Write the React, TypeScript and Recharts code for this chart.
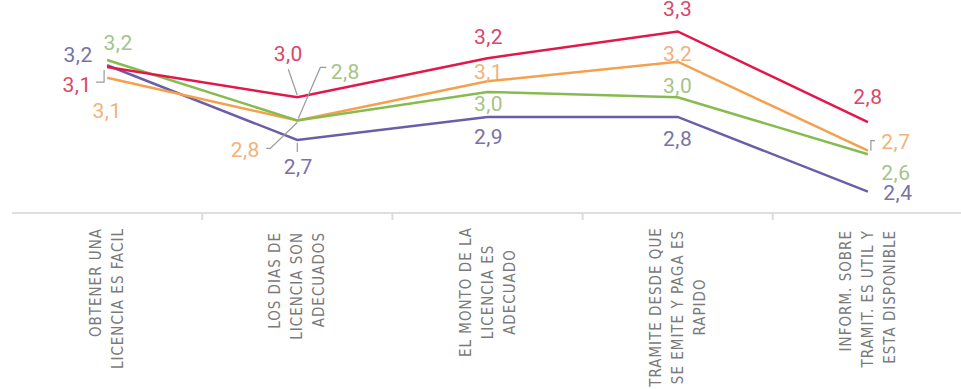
import React from 'react';
import { LineChart, Line, XAxis, YAxis, LabelList } from 'recharts';

// categorias (cada una partida en renglones, como en el original)
const categoryLines = [
  ['OBTENER UNA', 'LICENCIA ES FACIL'],
  ['LOS DIAS DE', 'LICENCIA SON', 'ADECUADOS'],
  ['EL MONTO DE LA', 'LICENCIA ES', 'ADECUADO'],
  ['TRAMITE DESDE QUE', 'SE EMITE Y PAGA ES', 'RAPIDO'],
  ['INFORM. SOBRE', 'TRAMIT. ES UTIL Y', 'ESTA DISPONIBLE'],
];

const rojo = [3.10, 2.93, 3.15, 3.30, 2.79];
const naranja = [3.04, 2.80, 3.02, 3.13, 2.63];
const verde = [3.14, 2.80, 2.96, 2.93, 2.61];
const morado = [3.11, 2.69, 2.82, 2.82, 2.40];

// etiquetas tal como aparecen impresas
const rojoLabels = ['3,1', '3,0', '3,2', '3,3', '2,8'];
const naranjaLabels = ['3,1', '2,8', '3,1', '3,2', '2,7'];
const verdeLabels = ['3,2', '2,8', '3,0', '3,0', '2,6'];
const moradoLabels = ['3,2', '2,7', '2,9', '2,8', '2,4'];

const data = categoryLines.map((lines, i) => ({
  name: lines.join(' '),
  rojo: rojo[i],
  naranja: naranja[i],
  verde: verde[i],
  morado: morado[i],
}));

type Pt = [number, number];

interface SeriesStyle {
  key: string;
  color: string;
  labelColor: string;
  labels: string[];
  offsets: Pt[];
  leaders: (Pt[] | null)[];
}

const series: SeriesStyle[] = [
  {
    key: 'morado',
    color: '#6b5ea8',
    labelColor: '#7a72a6',
    labels: moradoLabels,
    offsets: [[-29, -10], [1, 27], [1, 20], [0, 22], [30, 1]],
    leaders: [null, [[0, 3], [0, 12]], null, null, null],
  },
  {
    key: 'naranja',
    color: '#f5a04c',
    labelColor: '#f2b27c',
    labels: naranjaLabels,
    offsets: [[0, 33], [-52, 30], [1, -9], [0, -8], [28, -9]],
    leaders: [null, [[0, 2], [-27, 28], [-31, 28]], null, null, [[7, -10], [3, -10], [3, 0]]],
  },
  {
    key: 'verde',
    color: '#86bc4f',
    labelColor: '#a5c487',
    labels: verdeLabels,
    offsets: [[11, -17], [48, -48], [1, 12], [0, -11], [28, 19]],
    leaders: [null, [[29, -53], [23, -53], [1, -2]], null, null, null],
  },
  {
    key: 'rojo',
    color: '#e2174b',
    labelColor: '#d9476b',
    labels: rojoLabels,
    offsets: [[-30, 18], [-9, -43], [1, -21], [0, -22], [0, -25]],
    leaders: [[[-11, 15], [-3, 15], [-3, 3]], [[-9, -28], [0, -2]], null, null, null],
  },
];

// alineacion de las etiquetas giradas del eje X
const tickLayout = [
  { anchor: 'end', dy: 15 },
  { anchor: 'end', dy: 19 },
  { anchor: 'middle', dy: 79 },
  { anchor: 'middle', dy: 94 },
  { anchor: 'end', dy: 17 },
];

const labelFont = "'Liberation Sans Narrow', 'DejaVu Sans Condensed', Roboto, sans-serif";

const renderLabel = (s: SeriesStyle) => (props: any) => {
  const { x, y, index } = props;
  if (x == null || y == null) return null;
  const [dx, dy] = s.offsets[index];
  const leader = s.leaders[index];
  return (
    <g key={`${s.key}-${index}`}>
      {leader && (
        <polyline
          points={leader.map(([a, b]) => `${x + a},${y + b}`).join(' ')}
          fill="none"
          stroke="#9a9a9a"
          strokeWidth={1.2}
        />
      )}
      <text
        x={x + dx}
        y={y + dy}
        textAnchor="middle"
        dominantBaseline="central"
        fill={s.labelColor}
        fontFamily="Roboto, sans-serif"
        fontSize={21}
        letterSpacing={0.5}
      >
        {s.labels[index]}
      </text>
    </g>
  );
};

const CategoryTick = (props: any) => {
  const { x, y, index, payload } = props;
  const lines = categoryLines[index] || [];
  const cfg = tickLayout[index];
  const half = payload && payload.offset ? payload.offset : 95;
  const ty = y + cfg.dy;
  return (
    <g>
      {index > 0 && (
        <line x1={x - half} y1={y} x2={x - half} y2={y + 7} stroke="#dcdcdc" strokeWidth={2} />
      )}
      {lines.map((line, i) => {
        const cx = x + (i - (lines.length - 1) / 2) * 22;
        return (
          <text
            key={i}
            x={cx}
            y={ty}
            transform={`rotate(-90 ${cx} ${ty})`}
            textAnchor={cfg.anchor as any}
            dominantBaseline="central"
            fill="#7a7a7a"
            fontFamily={labelFont}
            fontSize={15}
            letterSpacing={1}
          >
            {line}
          </text>
        );
      })}
    </g>
  );
};

export default function App() {
  return (
    <div style={{ position: 'absolute', left: 0, top: 0, width: 961, height: 389, overflow: 'hidden', background: '#fff' }}>
      <LineChart width={963} height={389} data={data} margin={{ top: 19, right: 0, left: 12, bottom: 0 }}>
        <XAxis
          dataKey="name"
          scale="band"
          interval={0}
          height={176}
          tickSize={0}
          tickMargin={0}
          tickLine={false}
          axisLine={{ stroke: '#dedede', strokeWidth: 2 }}
          tick={<CategoryTick />}
        />
        <YAxis hide domain={[2.28, 3.37]} />
        {series.map((s) => (
          <Line
            key={s.key}
            type="linear"
            dataKey={s.key}
            stroke={s.color}
            strokeWidth={2.5}
            dot={false}
            activeDot={false}
            isAnimationActive={false}
          >
            <LabelList dataKey={s.key} content={renderLabel(s)} />
          </Line>
        ))}
      </LineChart>
    </div>
  );
}
